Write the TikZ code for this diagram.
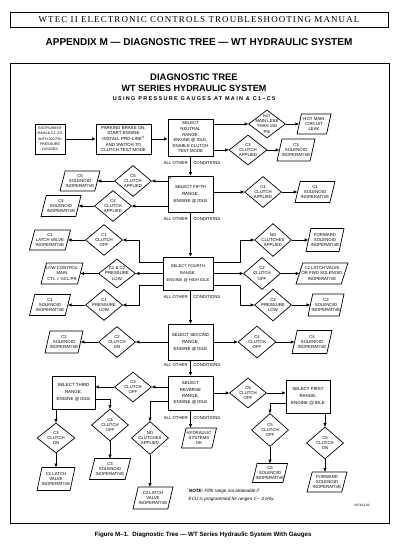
\documentclass[tikz,border=0pt]{standalone}
\usepackage{fontspec}
\setmainfont{Liberation Sans}
\newfontfamily\hdrfont[LetterSpace=12]{Liberation Serif}
\newfontfamily\spacedsans[LetterSpace=24]{Liberation Sans}
\usetikzlibrary{shapes.geometric,arrows.meta,calc}
\begin{document}
\begin{tikzpicture}[x=1pt,y=-1pt,
  box/.style={draw, line width=0.9pt, align=center, inner sep=0pt, font=\fontsize{4.4}{7}\selectfont},
  lbl/.style={align=center, inner sep=0pt, font=\fontsize{4.3}{5.3}\selectfont},
  dia/.style={diamond, draw, line width=0.7pt, inner sep=1pt, minimum width=37pt, minimum height=31pt, label={[lbl]center:#1}},
  para/.style={trapezium, trapezium left angle=80, trapezium right angle=100, trapezium stretches=true, draw, line width=0.7pt, inner sep=1pt, minimum width=40pt, minimum height=21pt, label={[lbl]center:#1}},
  arr/.style={line width=0.7pt, -{Triangle[length=3.5pt,width=3pt]}},
  cond/.style={inner sep=0pt, font=\fontsize{4.3}{5}\selectfont},
]
\fill[white] (0,0) rectangle (404,548);
\useasboundingbox (0,0) rectangle (404,548);

% header
\node[draw, line width=0.8pt, minimum width=378pt, minimum height=15pt, inner sep=0pt,
  font=\hdrfont\fontsize{9}{9}\selectfont] (hdr) at (199,19.5) {WTEC II ELECTRONIC CONTROLS TROUBLESHOOTING MANUAL};
\node[font=\bfseries\fontsize{10}{10}\selectfont] (app) at (199,42) {APPENDIX M — DIAGNOSTIC TREE — WT HYDRAULIC SYSTEM};

% frame
\node[draw, line width=0.9pt, minimum width=379pt, minimum height=460pt, inner sep=0pt] (frame) at (199.5,293) {};

% titles
\node[font=\bfseries\fontsize{9.5}{9.5}\selectfont] (t1) at (194,77) {DIAGNOSTIC TREE};
\node[font=\bfseries\fontsize{9}{9}\selectfont] (t2) at (194,88.5) {WT SERIES HYDRAULIC SYSTEM};
\node[font=\spacedsans\bfseries\fontsize{5.5}{5.5}\selectfont] (t3) at (194,99) {USING PRESSURE GAUGES AT MAIN \& C1–C5};

% row 1
\node[box, minimum width=30pt, minimum height=30pt, font=\fontsize{3.6}{5.3}\selectfont] (inst) at (50,139)
  {INSTRUMENT\\MAIN \& C1–C5\\WITH 300 PSI\\PRESSURE\\GAUGES};
\node[box, minimum width=55pt, minimum height=30pt, font=\fontsize{4.4}{5.6}\selectfont] (park) at (123.5,139)
  {PARKING BRAKE ON,\\START ENGINE\\INSTALL PRO-LINK\textsuperscript{®}\\AND SWITCH TO\\CLUTCH TEST MODE};
\node[box, minimum width=45pt, minimum height=37pt, font=\fontsize{4.3}{5.6}\selectfont] (neut) at (190.5,137.5)
  {SELECT\\NEUTRAL\\RANGE,\\ENGINE @ IDLE,\\ENABLE CLUTCH\\TEST MODE};
\node[dia={\fontsize{3.8}{4.6}\selectfont HOT\\MAIN LESS\\THAN 150\\PSI}, minimum height=28pt] (hot) at (267,124) {};
\node[para={HOT MAIN\\CIRCUIT\\LEAK}, minimum width=34pt, minimum height=20pt] (leak) at (314,124) {};
\node[dia={C3\\CLUTCH\\APPLIED}, minimum width=38pt, minimum height=30pt] (c3a) at (248,150) {};
\node[para={C3\\SOLENOID\\INOPERATIVE}, minimum width=38pt, minimum height=22pt] (c3sol) at (296,150) {};

% fifth
\node[box, minimum width=45pt, minimum height=36pt,
  label={[anchor=north west, inner sep=1.5pt, font=\fontsize{6}{6}\selectfont]north west:*}] (fifth) at (190.5,194)
  {SELECT FIFTH\\RANGE,\\ENGINE @ IDLE};
\node[dia={C5\\CLUTCH\\APPLIED}] (c5a) at (133,181) {};
\node[para={C5\\SOLENOID\\INOPERATIVE}, minimum height=20pt] (c5sol) at (80,181) {};
\node[dia={C4\\CLUTCH\\APPLIED}] (c4a) at (113,206) {};
\node[para={C4\\SOLENOID\\INOPERATIVE}] (c4sol) at (61,206) {};
\node[dia={C1\\CLUTCH\\APPLIED}] (c1a) at (263,192) {};
\node[para={C1\\SOLENOID\\INOPERATIVE}] (c1sol) at (315,192) {};

% fourth
\node[box, minimum width=50pt, minimum height=33pt, font=\fontsize{4.1}{6.8}\selectfont] (fourth) at (188,273.5)
  {SELECT FOURTH\\RANGE,\\ENGINE @ HIGH IDLE};
\node[dia={C1\\CLUTCH\\OFF}] (c1off) at (104,240) {};
\node[para={C1\\LATCH VALVE\\INOPERATIVE}, minimum width=41pt, minimum height=20pt] (c1latch) at (50,240) {};
\node[dia={C1 \& C2\\PRESSURE\\LOW}, minimum height=29pt] (c12) at (117,273.5) {};
\node[para={LOW CONTROL\\MAIN\\CTL = ½CL PR}, minimum width=42pt] (lowcm) at (62,273.5) {};
\node[dia={C1\\PRESSURE\\LOW}] (c1pl) at (104,305) {};
\node[para={C1\\SOLENOID\\INOPERATIVE}, minimum width=41pt] (c1sol2) at (50,305) {};
\node[dia={NO\\CLUTCHES\\APPLIED}, minimum height=33pt] (nocl) at (273,240) {};
\node[para={FORWARD\\SOLENOID\\INOPERATIVE}, minimum width=38pt, minimum height=23pt] (fwdsol) at (325,240) {};
\node[dia={C2\\CLUTCH\\OFF}, minimum height=32pt] (c2off) at (262,273.5) {};
\node[para={C2 LATCH VALVE\\OR FWD SOLENOID\\INOPERATIVE}, minimum width=52pt] (c2latch) at (322,273.5) {};
\node[dia={C2\\PRESSURE\\LOW}, minimum height=32pt] (c2pl) at (273,305) {};
\node[para={C2\\SOLENOID\\INOPERATIVE}, minimum width=36pt, minimum height=22pt] (c2sol) at (326,305) {};

% second
\node[box, minimum width=45pt, minimum height=36pt] (second) at (190.5,342)
  {SELECT SECOND\\RANGE,\\ENGINE @ IDLE};
\node[dia={C2\\CLUTCH\\ON}] (c2on) at (117,342) {};
\node[para={C2\\SOLENOID\\INOPERATIVE}, minimum width=38pt, minimum height=22pt] (c2sol2) at (64,342) {};
\node[dia={C4\\CLUTCH\\OFF}, minimum width=38pt, minimum height=32pt] (c4off) at (257,342) {};
\node[para={C4\\SOLENOID\\INOPERATIVE}, minimum height=23pt] (c4sol2) at (312,342) {};

% reverse
\node[box, minimum width=45pt, minimum height=34pt, font=\fontsize{4.4}{6.3}\selectfont] (reverse) at (190.5,393)
  {SELECT\\REVERSE\\RANGE,\\ENGINE @ IDLE};
\node[dia={C3\\CLUTCH\\OFF}, minimum height=30pt] (c3off) at (133,387) {};
\node[box, minimum width=43pt, minimum height=33pt] (third) at (73.5,392.5)
  {SELECT THIRD\\RANGE,\\ENGINE @ IDLE};
\node[dia={C5\\CLUTCH\\OFF}, minimum height=30pt] (c5off) at (248,393) {};
\node[box, minimum width=44pt, minimum height=33pt] (first) at (308,396.5)
  {SELECT FIRST\\RANGE,\\ENGINE @ IDLE};
\node[dia={C3\\CLUTCH\\ON}, minimum width=38pt, minimum height=30pt] (c3on) at (56,438) {};
\node[dia={C3\\CLUTCH\\OFF}, minimum height=32pt] (c3off2) at (110,425) {};
\node[dia={NO\\CLUTCHES\\APPLIED}, minimum height=33pt] (nocl2) at (150,438) {};
\node[para={HYDRAULIC\\SYSTEMS\\OK}, minimum width=35pt, minimum height=20pt] (hydok) at (199,438) {};
\node[dia={C5\\CLUTCH\\OFF}, minimum height=33pt] (c5off2) at (270,430) {};
\node[dia={C5\\CLUTCH\\ON}, minimum height=32pt] (c5on) at (325,443) {};
\node[para={C1 LATCH\\VALVE\\INOPERATIVE}, minimum width=38pt, minimum height=23pt] (c1latch2) at (56,479) {};
\node[para={C3\\SOLENOID\\INOPERATIVE}, minimum width=41pt] (c3sol3) at (110,469) {};
\node[para={C2 LATCH\\VALVE\\INOPERATIVE}, minimum width=40pt, minimum height=22pt] (c2latch2) at (153,498) {};
\node[para={C5\\SOLENOID\\INOPERATIVE}, minimum width=35pt, minimum height=19pt] (c5sol3) at (270,473) {};
\node[para={FORWARD\\SOLENOID\\INOPERATIVE}, minimum width=40pt, minimum height=20pt] (fwdsol2) at (327,482) {};

% note, code, caption
\node[anchor=west, align=left, inner sep=0pt, font=\itshape\fontsize{4.6}{8}\selectfont] (note) at (187,494.5)
  {\textsuperscript{*}\textbf{NOTE:} Fifth range not attainable if\\\hspace*{1.5pt}ECU is programmed for ranges 1 – 4 only.};
\node[inner sep=0pt, font=\fontsize{3.2}{3.2}\selectfont] (code) at (362,505) {V07102.02};
\node[font=\bfseries\fontsize{6.2}{6.2}\selectfont] (cap) at (203,534.5) {Figure M–1.\ \ Diagnostic Tree — WT Series Hydraulic System With Gauges};

% connectors row 1
\draw[arr] (inst.east) -- (park.west);
\draw[arr] (park.east) -- (park.east -| neut.west);
\draw[arr] (neut.east |- hot.west) -- (hot.west);
\draw[arr] (hot.east) -- (leak.west);
\draw[arr] (neut.east |- c3a.west) -- (c3a.west);
\draw[arr] (c3a.east) -- (c3sol.west);
\draw[arr] (neut.south) -- node[cond, pos=.35, left=2.5pt]{ALL OTHER} node[cond, pos=.35, right=2.5pt]{CONDITIONS} (fifth.north);

% fifth
\draw[arr] (fifth.west |- c5a.east) -- (c5a.east);
\draw[arr] (c5a.west) -- (c5sol.east);
\draw[arr] (fifth.west |- c4a.east) -- (c4a.east);
\draw[arr] (c4a.west) -- (c4sol.east);
\draw[arr] (fifth.east |- c1a.west) -- (c1a.west);
\draw[arr] (c1a.east) -- (c1sol.west);
\draw[arr] (fifth.south) -- node[cond, pos=.16, left=2.5pt]{ALL OTHER} node[cond, pos=.16, right=2.5pt]{CONDITIONS} (fifth.south |- fourth.north);

% fourth
\draw[arr] ([yshift=11.5pt]fourth.west) -- ++(-23,0) |- (c1off.east);
\draw[arr] (fourth.west) -- (c12.east);
\draw[arr] ([yshift=-11.5pt]fourth.west) -- ++(-23,0) |- (c1pl.east);
\draw[arr] (c1off.west) -- (c1latch.east);
\draw[arr] (c12.west) -- (lowcm.east);
\draw[arr] (c1pl.west) -- (c1sol2.east);
\draw[arr] ([yshift=11.5pt]fourth.east) -- ++(27,0) |- (nocl.west);
\draw[arr] (fourth.east) -- (c2off.west);
\draw[arr] ([yshift=-11.5pt]fourth.east) -- ++(27,0) |- (c2pl.west);
\draw[arr] (nocl.east) -- (fwdsol.west);
\draw[arr] (c2off.east) -- (c2latch.west);
\draw[arr] (c2pl.east) -- (c2sol.west);
\draw[arr] (fourth.south -| second.north) -- node[cond, pos=.2, left=2.5pt]{ALL OTHER} node[cond, pos=.2, right=2.5pt]{CONDITIONS} (second.north);

% second
\draw[arr] (second.west) -- (c2on.east);
\draw[arr] (c2on.west) -- (c2sol2.east);
\draw[arr] (second.east) -- (c4off.west);
\draw[arr] (c4off.east) -- (c4sol2.west);
\draw[arr] (second.south) -- node[cond, pos=.31, left=2.5pt]{ALL OTHER} node[cond, pos=.31, right=2.5pt]{CONDITIONS} (reverse.north);

% reverse
\draw[arr] (reverse.west |- c3off.east) -- (c3off.east);
\draw[arr] (c3off.west) -- (c3off.west -| third.east);
\draw[arr] ([yshift=-8pt]reverse.west) -| (nocl2.north);
\draw[arr] (reverse.south) -- node[cond, pos=.44, left=2.5pt]{ALL OTHER} node[cond, pos=.44, right=2.5pt]{CONDITIONS} (reverse.south |- hydok.north);
\draw[arr] (reverse.east) -- (c5off.west);
\draw[arr] (c5off.east) -- (c5off.east -| first.west);
\draw[arr] ([yshift=-7pt]first.west) -| (c5off2.north);
\draw[arr] (first.south -| c5on.north) -- (c5on.north);
\draw[arr] (third.south -| c3on.north) -- (c3on.north);
\draw[arr] ([yshift=-6.5pt]third.east) -| (c3off2.north);
\draw[arr] (c3on.south) -- (c1latch2.north);
\draw[arr] (c3off2.south) -- (c3sol3.north);
\draw[arr] (nocl2.south) -- (nocl2.south |- c2latch2.north);
\draw[arr] (c5off2.south) -- (c5sol3.north);
\draw[arr] (c5on.south) -- (c5on.south |- fwdsol2.north);
\end{tikzpicture}
\end{document}
